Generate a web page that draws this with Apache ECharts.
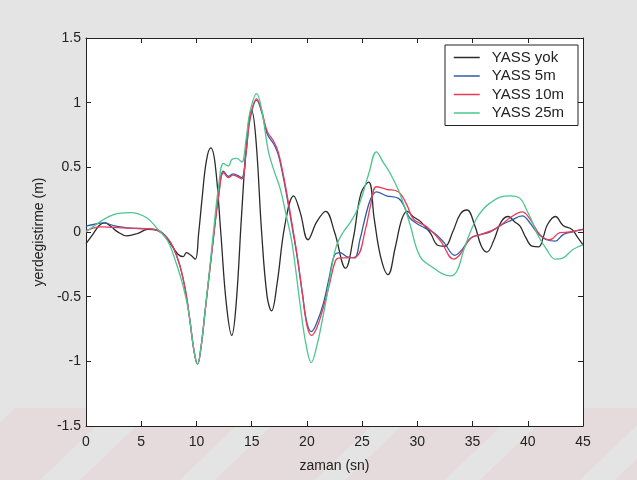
<!DOCTYPE html>
<html>
<head>
<meta charset="utf-8">
<script src="https://cdn.jsdelivr.net/npm/echarts@6/dist/echarts.min.js"></script>
<style>
html,body{margin:0;padding:0;background:#e4e4e4;}
#c{width:637px;height:480px;}
</style>
</head>
<body>
<div id="c"></div>
<script>
var seriesNames = ['YASS yok', 'YASS 5m', 'YASS 10m', 'YASS 25m'];
var xTicks = [0, 45, 5];
var yTicks = [-1.5, 1.5, 0.5];

var yassYok = [[0,-0.09],[0.6,-0.02],[1.2,0.05],[1.7,0.07],[2.3,0.04],[2.8,0.005],[3.7,-0.03],[4.7,-0.01],[5.6,0.02],[6.5,0.01],[7.4,-0.06],[8.3,-0.17],[8.8,-0.19],[9.1,-0.16],[9.5,-0.18],[9.9,-0.21],[10.2,-0.01],[10.5,0.25],[10.9,0.55],[11.3,0.65],[11.7,0.52],[12.2,0.0],[12.7,-0.55],[13.2,-0.80],[13.6,-0.55],[14.1,0.15],[14.6,0.75],[15.0,0.94],[15.4,0.7],[15.9,0.0],[16.4,-0.5],[16.8,-0.61],[17.3,-0.4],[18.0,0.05],[18.8,0.28],[19.4,0.15],[20.1,-0.06],[20.9,0.08],[21.7,0.16],[22.5,0.0],[23.5,-0.28],[24.2,-0.05],[24.9,0.3],[25.6,0.385],[26.1,0.1],[26.7,-0.2],[27.35,-0.33],[28.0,-0.12],[28.6,0.1],[29.1,0.16],[29.6,0.12],[30.3,0.08],[31.2,-0.01],[31.8,-0.1],[32.5,-0.11],[33.2,0.0],[33.9,0.14],[34.5,0.17],[35.2,0.05],[35.8,-0.11],[36.3,-0.155],[36.9,-0.07],[37.6,0.08],[38.25,0.12],[38.8,0.08],[39.3,0.045],[39.8,-0.04],[40.4,-0.11],[41.0,-0.115],[41.4,-0.04],[41.8,0.06],[42.5,0.12],[43.2,0.05],[44.0,0.02],[44.5,-0.04],[45,-0.1]];

var yass5m = [[0,0.045],[0.8,0.06],[1.6,0.07],[2.5,0.05],[4,0.03],[5.5,0.025],[6.5,0.015],[7.3,-0.04],[7.9,-0.12],[8.5,-0.26],[9.0,-0.45],[9.4,-0.68],[9.8,-0.93],[10.1,-1.02],[10.4,-0.9],[10.8,-0.6],[11.2,-0.3],[11.6,0.0],[12.0,0.28],[12.45,0.47],[12.9,0.43],[13.3,0.45],[13.65,0.44],[14.1,0.42],[14.5,0.62],[14.85,0.87],[15.45,1.02],[15.9,0.93],[16.4,0.76],[17.0,0.68],[17.4,0.6],[17.8,0.45],[18.2,0.27],[18.7,0.02],[19.1,-0.18],[19.6,-0.48],[20.0,-0.7],[20.4,-0.77],[20.9,-0.7],[21.5,-0.55],[22.0,-0.36],[22.5,-0.18],[23.0,-0.16],[23.6,-0.19],[24.3,-0.2],[24.8,-0.06],[25.3,0.12],[25.8,0.26],[26.3,0.31],[27.2,0.28],[28.3,0.26],[28.8,0.2],[29.3,0.11],[30.25,0.05],[31.5,-0.006],[32.4,-0.08],[33.4,-0.18],[34.0,-0.14],[34.8,-0.05],[35.7,-0.02],[36.6,0.0],[37.5,0.05],[38.5,0.09],[39.5,0.125],[40.2,0.07],[40.8,0.0],[41.7,-0.06],[42.5,-0.07],[43.2,-0.02],[44,0.0],[45,0.02]];

var yass10m = [[0,0.01],[1.3,0.04],[2.5,0.035],[4,0.03],[5.5,0.025],[6.5,0.012],[7.3,-0.04],[7.9,-0.12],[8.5,-0.26],[9.0,-0.45],[9.4,-0.68],[9.8,-0.93],[10.1,-1.02],[10.4,-0.9],[10.8,-0.6],[11.2,-0.3],[11.6,0.0],[12.0,0.27],[12.45,0.46],[12.9,0.42],[13.3,0.44],[13.65,0.43],[14.1,0.41],[14.5,0.62],[14.85,0.88],[15.45,1.03],[15.9,0.94],[16.4,0.78],[17.0,0.7],[17.4,0.62],[17.8,0.47],[18.2,0.29],[18.7,0.04],[19.1,-0.17],[19.6,-0.48],[20.0,-0.72],[20.4,-0.80],[20.9,-0.74],[21.5,-0.58],[22.0,-0.42],[22.6,-0.22],[23.0,-0.2],[23.6,-0.2],[24.5,-0.19],[25.3,0.02],[25.8,0.22],[26.3,0.35],[27.2,0.33],[28.3,0.31],[29.05,0.21],[29.65,0.1],[30.85,0.04],[32.1,-0.07],[33.3,-0.21],[33.9,-0.17],[34.8,-0.05],[35.7,-0.02],[37.2,0.03],[38.4,0.11],[39.5,0.155],[40.2,0.1],[41.1,-0.02],[42.0,-0.06],[42.9,-0.005],[43.8,0.0],[45,0.02]];

var yass25m = [[0,0.0],[1.3,0.08],[2.5,0.135],[4.0,0.15],[5.5,0.11],[6.5,0.02],[7.4,-0.07],[8.2,-0.25],[8.8,-0.42],[9.3,-0.62],[9.8,-0.93],[10.1,-1.02],[10.4,-0.9],[10.8,-0.6],[11.2,-0.28],[11.6,0.05],[12.0,0.35],[12.45,0.53],[12.9,0.51],[13.2,0.56],[13.65,0.57],[14.1,0.54],[14.5,0.72],[14.85,0.93],[15.45,1.07],[15.9,0.95],[16.5,0.63],[17.0,0.48],[17.6,0.33],[18.1,0.14],[18.6,-0.06],[19.0,-0.3],[19.4,-0.57],[19.9,-0.86],[20.4,-1.01],[20.9,-0.88],[21.4,-0.68],[21.8,-0.5],[22.3,-0.25],[22.7,-0.1],[23.3,0.0],[23.9,0.07],[24.5,0.16],[25.0,0.28],[25.6,0.45],[26.3,0.62],[26.9,0.54],[27.5,0.46],[28.4,0.3],[29.3,0.07],[30.25,-0.19],[31.5,-0.28],[32.2,-0.32],[33.0,-0.34],[33.6,-0.3],[34.2,-0.14],[34.8,0.0],[35.4,0.11],[36.0,0.18],[36.6,0.225],[37.5,0.27],[38.4,0.28],[39.3,0.26],[39.9,0.17],[40.4,0.08],[40.8,-0.006],[41.7,-0.135],[42.5,-0.21],[43.2,-0.2],[44.1,-0.135],[45,-0.1]];

var seriesData = [yassYok, yass5m, yass10m, yass25m];
var colors = ['#2b2b2b', '#2f5ca8', '#ec3a55', '#4cc68c'];

var font = 'Liberation Sans, Arial, sans-serif';
var axisColor = '#222';

function xAx(pos, labels) {
  return {
    type: 'value', position: pos, min: xTicks[0], max: xTicks[1], interval: xTicks[2],
    axisLine: {show: true, onZero: false, lineStyle: {color: axisColor, width: 1}},
    axisTick: {show: true, inside: true, length: 5, lineStyle: {color: axisColor}},
    axisLabel: {show: labels, color: axisColor, fontSize: 14, fontFamily: font, margin: 9},
    splitLine: {show: false},
    name: labels ? 'zaman (sn)' : '', nameLocation: 'middle', nameGap: 33,
    nameTextStyle: {color: axisColor, fontSize: 14, fontFamily: font}
  };
}
function yAx(pos, labels) {
  return {
    type: 'value', position: pos, min: yTicks[0], max: yTicks[1], interval: yTicks[2],
    axisLine: {show: true, onZero: false, lineStyle: {color: axisColor, width: 1}},
    axisTick: {show: true, inside: true, length: 5, lineStyle: {color: axisColor}},
    axisLabel: {show: labels, color: axisColor, fontSize: 14, fontFamily: font, margin: 5},
    splitLine: {show: false},
    name: labels ? 'yerdegistirme (m)' : '', nameLocation: 'middle', nameGap: 37,
    nameTextStyle: {color: axisColor, fontSize: 14, fontFamily: font}
  };
}

// faint pink diagonal scan bands near the bottom (decoration)
var bandStarts = [-60, 80, 215, 345, 480, 615];
var stripes = bandStarts.map(function (x0) {
  return {
    type: 'polygon', z: -10, silent: true,
    shape: {points: [[x0 + 75, 408], [x0 + 175, 408], [x0 + 100, 480], [x0, 480]]},
    style: {fill: 'rgba(235,150,165,0.12)'}
  };
});

var chart = echarts.init(document.getElementById('c'), null, {renderer: 'canvas'});
chart.setOption({
  backgroundColor: '#e4e4e4',
  animation: false,
  color: colors,
  grid: {left: 86, right: 54, top: 38, bottom: 54, show: true, backgroundColor: '#ffffff', borderWidth: 0},
  xAxis: [xAx('bottom', true), xAx('top', false)],
  yAxis: [yAx('left', true), yAx('right', false)],
  legend: {
    orient: 'vertical', left: 445, top: 45,
    padding: [5, 14, 5, 8], itemGap: 3.5, itemWidth: 26, itemHeight: 14,
    backgroundColor: '#ffffff', borderColor: '#222', borderWidth: 1, borderRadius: 0,
    itemStyle: {opacity: 0},
    lineStyle: {width: 1.5},
    textStyle: {color: '#222', fontSize: 15, fontFamily: font, padding: [0, 0, 0, 7]},
    data: seriesNames
  },
  graphic: stripes,
  series: seriesNames.map(function (n, i) {
    return {
      name: n, type: 'line', data: seriesData[i], showSymbol: false, symbol: 'none',
      smooth: 0.4, lineStyle: {width: 1.3, color: colors[i]}, itemStyle: {color: colors[i]}
    };
  })
});
</script>
</body>
</html>
